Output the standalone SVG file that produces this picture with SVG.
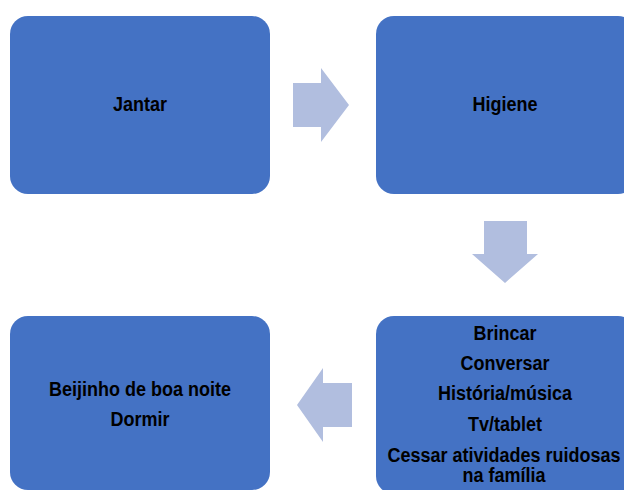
<svg xmlns="http://www.w3.org/2000/svg" width="624" height="490" viewBox="0 0 624 490">
  <style>
    .box { fill: #4472C4; }
    .arrow { fill: #B1BEDF; }
    .t { font-family: "Liberation Sans", Arial, sans-serif; font-weight: bold; font-size: 18px; fill: #000; text-anchor: middle; }
  </style>
  <rect width="624" height="490" fill="#FFFFFF"/>
  <g id="connectors">
    <polygon class="arrow" points="293,83 321,83 321,68 349,105 321,142 321,127 293,127"/>
    <polygon class="arrow" points="484,221 527,221 527,254 538,254 505,283 472,254 484,254"/>
    <polygon class="arrow" points="352,383 323,383 323,368 297,405 323,442 323,427 352,427"/>
  </g>
  <g id="node-jantar">
    <rect class="box" x="10" y="16" width="260" height="178" rx="18"/>
    <text class="t" transform="translate(140,111) scale(1,1.12)">Jantar</text>
  </g>
  <g id="node-higiene">
    <rect class="box" x="376" y="16" width="260" height="178" rx="18"/>
    <text class="t" transform="translate(505,111) scale(1,1.12)">Higiene</text>
  </g>
  <g id="node-atividades">
    <rect class="box" x="376" y="316" width="260" height="178" rx="18"/>
    <text class="t" transform="translate(505,340) scale(1,1.12)">Brincar</text>
    <text class="t" transform="translate(505,370) scale(1,1.12)">Conversar</text>
    <text class="t" transform="translate(505,400) scale(1,1.12)">História/música</text>
    <text class="t" transform="translate(505,431) scale(1,1.12)">Tv/tablet</text>
    <text class="t" transform="translate(504,462) scale(1,1.12)">Cessar atividades ruidosas</text>
    <text class="t" transform="translate(504,482) scale(1,1.12)">na família</text>
  </g>
  <g id="node-dormir">
    <rect class="box" x="10" y="316" width="260" height="174" rx="18"/>
    <text class="t" transform="translate(140,396) scale(1,1.12)">Beijinho de boa noite</text>
    <text class="t" transform="translate(140,426) scale(1,1.12)">Dormir</text>
  </g>
</svg>
